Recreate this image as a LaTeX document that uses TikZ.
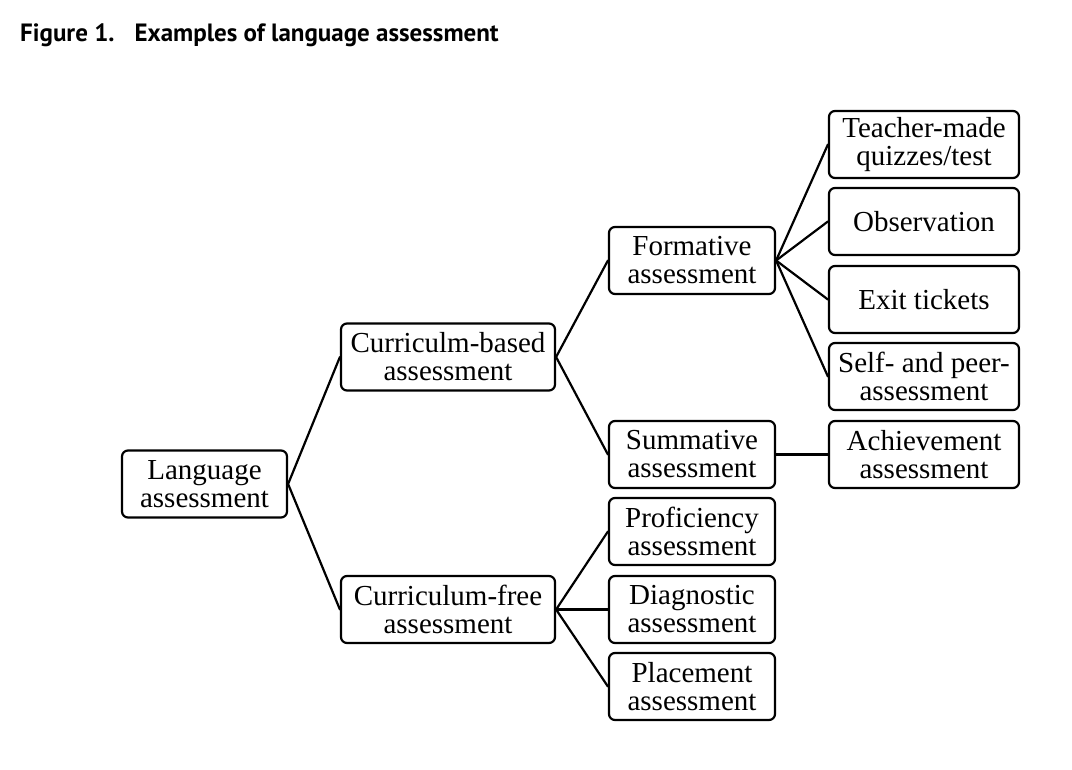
\documentclass[tikz,border=0pt]{standalone}
\usepackage{fontspec}
\setmainfont{Liberation Serif}
\newfontfamily\titlefont{PT Sans}
\begin{document}
\begin{tikzpicture}[x=1pt,y=-1pt,line join=round,line cap=round,
	box/.style={draw,line width=2.2pt,rounded corners=6pt,align=center,inner sep=0pt,
		minimum height=67pt,font=\fontsize{29}{28}\selectfont},
	lvlone/.style={box,minimum width=165pt},
	lvltwo/.style={box,minimum width=214pt},
	lvlthree/.style={box,minimum width=166pt},
	lvlfour/.style={box,minimum width=190pt},
	link/.style={line width=2.2pt}]
		\useasboundingbox (0,0) rectangle (1072,770);
		% title
		\node[anchor=base west,inner sep=0pt,font=\titlefont\bfseries\fontsize{25}{30}\selectfont] (title) at (20,42) {Figure 1.\hspace{20pt}Examples of language assessment};
		% tree
		\node[lvlone] (lang) at (204.5,484) {Language\\assessment};
		\node[lvltwo] (cbased) at (448,357) {Curriculm-based\\assessment};
		\node[lvltwo] (cfree) at (448,609.5) {Curriculum-free\\assessment};
		\node[lvlthree] (form) at (692,260.5) {Formative\\assessment};
		\node[lvlthree] (summ) at (692,454.5) {Summative\\assessment};
		\node[lvlthree] (prof) at (692,531.5) {Proficiency\\assessment};
		\node[lvlthree] (diag) at (692,609.5) {Diagnostic\\assessment};
		\node[lvlthree] (place) at (692,686.5) {Placement\\assessment};
		\node[lvlfour] (quiz) at (924,144.5) {Teacher-made\\quizzes/test};
		\node[lvlfour] (obs) at (924,221.5) {Observation};
		\node[lvlfour] (exit) at (924,299.5) {Exit tickets};
		\node[lvlfour] (peer) at (924,376.5) {Self- and peer-\\assessment};
		\node[lvlfour] (achv) at (924,454.5) {Achievement\\assessment};
		% connectors
		\foreach \a/\b in {lang/cbased,lang/cfree,cbased/form,cbased/summ,cfree/prof,cfree/diag,cfree/place,
			form/quiz,form/obs,form/exit,form/peer,summ/achv}
			\draw[link] (\a.east) -- (\b.west);
\end{tikzpicture}
\end{document}
